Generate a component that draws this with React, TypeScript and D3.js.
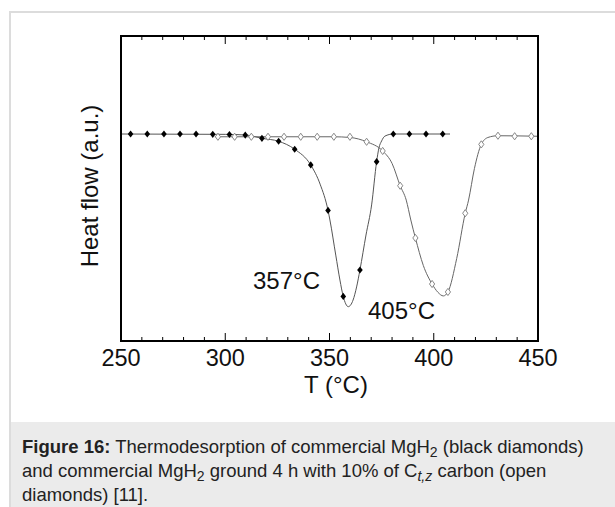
import React from "react";
import * as d3 from "d3";

// black diamonds: commercial MgH2
const blackMarkT = [254.6, 262.6, 270.6, 278.3, 286, 294, 302, 309.6, 317.6, 325.6, 333.3, 341, 349.3, 356.6, 364.6, 372.6, 380.6, 388.3, 396.3, 404.3];
const blackMarkV = [0, 0, 0, 0, 0, -0.002, -0.003, -0.006, -0.025, -0.042, -0.088, -0.179, -0.442, -0.939, -0.786, -0.16, 0, 0, 0, 0];
const blackLineT = [250, 300, 310, 317.6, 325.6, 333.3, 341, 345.5, 349.3, 350.2, 353, 355, 356.6, 359, 361.3, 363, 364.6, 367.5, 370.2, 372.6, 373.7, 375, 376.6, 380.6, 407.8];
const blackLineV = [0, -0.002, -0.006, -0.025, -0.042, -0.088, -0.179, -0.29, -0.442, -0.497, -0.7, -0.844, -0.939, -0.998, -0.96, -0.884, -0.786, -0.584, -0.41, -0.16, -0.081, -0.04, -0.012, 0, 0];

// open diamonds: MgH2 ground 4 h with 10% C(t,z)
const openMarkT = [296.5, 304.5, 312.5, 320.5, 328.2, 336.2, 344.1, 352.1, 359.8, 367.8, 375.5, 383.9, 391.2, 399.2, 406.8, 415.1, 422.8, 430.8, 438.8, 446.8];
const openMarkV = [-0.016, -0.016, -0.016, -0.016, -0.016, -0.016, -0.016, -0.016, -0.016, -0.045, -0.098, -0.299, -0.601, -0.867, -0.913, -0.458, -0.06, -0.01, -0.013, -0.013];
const openLineT = [295, 352, 359.8, 367.8, 375.5, 380, 383.9, 386.8, 389, 391.2, 395, 399.2, 402, 404.6, 406.8, 411, 415.1, 416.7, 419.5, 422.8, 426, 430.8, 450];
const openLineV = [-0.016, -0.016, -0.02, -0.045, -0.098, -0.17, -0.299, -0.382, -0.497, -0.601, -0.76, -0.867, -0.915, -0.936, -0.913, -0.72, -0.458, -0.382, -0.2, -0.06, -0.02, -0.01, -0.013];

const xTicks = [250, 300, 350, 400, 450];
const peakLabels = ["357°C", "405°C"];

const font = "'Liberation Sans', Arial, Helvetica, sans-serif";

const frame = { left: 121, right: 538, top: 36, bottom: 341 };

const diamond = (cx: number, cy: number, w: number, h: number) =>
  `M${cx},${cy - h}L${cx + w},${cy}L${cx},${cy + h}L${cx - w},${cy}Z`;

const App = () => {
  const x = d3.scaleLinear().domain([250, 450]).range([frame.left, frame.right]);
  const y = d3.scaleLinear().domain([-1.1965, 0.5665]).range([frame.bottom, frame.top]);

  const line = d3
    .line<[number, number]>()
    .x((d) => x(d[0]))
    .y((d) => y(d[1]))
    .curve(d3.curveMonotoneX);

  const blackLine = blackLineT.map((t, i) => [t, blackLineV[i]] as [number, number]);
  const openLine = openLineT.map((t, i) => [t, openLineV[i]] as [number, number]);
  const minorTicks = d3.range(250, 451, 10);

  return (
    <svg
      width={615}
      height={507}
      style={{ position: "absolute", left: 0, top: 0, background: "#fff" }}
    >
      {/* figure container */}
      <rect x={11} y={422} width={604} height={85} fill="#ebebeb" />
      <line x1={10} x2={615} y1={12} y2={12} stroke="#dcdcdc" strokeWidth={2} />
      <line x1={10} x2={10} y1={11} y2={507} stroke="#dcdcdc" strokeWidth={2} />

      {/* ticks */}
      <g stroke="#000" strokeWidth={1}>
        {minorTicks.map((t) => {
          const len = t % 50 === 0 ? 8 : 4;
          return (
            <g key={t}>
              <line x1={x(t)} x2={x(t)} y1={frame.bottom} y2={frame.bottom - len} />
              <line x1={x(t)} x2={x(t)} y1={frame.top} y2={frame.top + len} />
            </g>
          );
        })}
      </g>

      {/* curves */}
      <path d={line(blackLine) ?? ""} fill="none" stroke="#555" strokeWidth={1} />
      <path d={line(openLine) ?? ""} fill="none" stroke="#666" strokeWidth={1} />

      {openMarkT.map((t, i) => (
        <path
          key={"o" + i}
          d={diamond(x(t), y(openMarkV[i]), 2.6, 3.6)}
          fill="#fff"
          stroke="#888"
          strokeWidth={1}
        />
      ))}
      {blackMarkT.map((t, i) => (
        <path key={"b" + i} d={diamond(x(t), y(blackMarkV[i]), 2.8, 3.6)} fill="#000" />
      ))}

      <rect
        x={frame.left}
        y={frame.top}
        width={frame.right - frame.left}
        height={frame.bottom - frame.top}
        fill="none"
        stroke="#000"
        strokeWidth={2}
      />

      {/* tick labels */}
      {xTicks.map((t) => (
        <text key={t} x={x(t)} y={366} textAnchor="middle" fontFamily={font} fontSize={23.5} fill="#111">
          {t}
        </text>
      ))}
      <text x={336} y={393} textAnchor="middle" fontFamily={font} fontSize={24} fill="#111">
        T (°C)
      </text>
      <text
        transform="translate(98,186) rotate(-90)"
        textAnchor="middle"
        fontFamily={font}
        fontSize={24}
        fill="#111"
      >
        Heat flow (a.u.)
      </text>

      <text x={253} y={289} fontFamily={font} fontSize={24} fill="#111">
        {peakLabels[0]}
      </text>
      <text x={368} y={319} fontFamily={font} fontSize={24} fill="#111">
        {peakLabels[1]}
      </text>

      {/* caption */}
      <g fontFamily={font} fontSize={18.5} fill="#222">
        <text x={22} y={453}>
          <tspan fontWeight="bold">Figure 16:</tspan> Thermodesorption of commercial MgH
          <tspan dy={4} fontSize={14}>2</tspan>
          <tspan dy={-4}> (black diamonds)</tspan>
        </text>
        <text x={22} y={477}>
          and commercial MgH<tspan dy={4} fontSize={14}>2</tspan>
          <tspan dy={-4}> ground 4 h with 10% of C</tspan>
          <tspan dy={4} fontSize={14} fontStyle="italic">t,z</tspan>
          <tspan dy={-4}> carbon (open</tspan>
        </text>
        <text x={22} y={501}>
          diamonds) [11].
        </text>
      </g>
    </svg>
  );
};

export default App;
